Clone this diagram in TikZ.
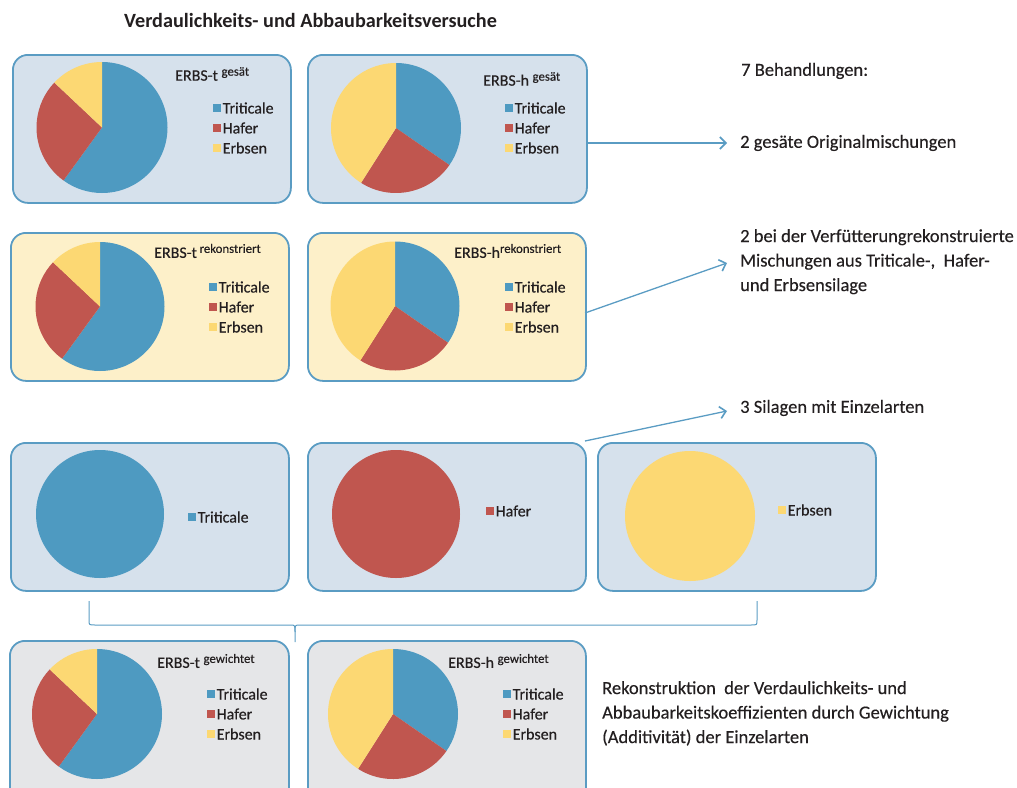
\documentclass[tikz,border=0pt]{standalone}
\usepackage{fontspec}
\setmainfont{Carlito}[UprightFeatures={FakeBold=0.35}]
\usetikzlibrary{arrows.meta}
\definecolor{cT}{HTML}{4E9AC1}
\definecolor{cH}{HTML}{C0564F}
\definecolor{cE}{HTML}{FCD873}
\definecolor{bl}{HTML}{D6E1EC}
\definecolor{be}{HTML}{FDF0C9}
\definecolor{gr}{HTML}{E5E6E8}
\definecolor{ln}{HTML}{5A9CC3}
\definecolor{tx}{HTML}{231F20}
\newcommand\mypie[5]{%
\begin{scope}[shift={(#1,#2)},yscale=-1]
\fill[cT] (0,0) -- (90:#3) arc[start angle=90,end angle=#4,radius=#3] -- cycle;
\fill[cH] (0,0) -- (#4:#3) arc[start angle=#4,end angle=#5,radius=#3] -- cycle;
\fill[cE] (0,0) -- (#5:#3) arc[start angle=#5,end angle=-270,radius=#3] -- cycle;
\end{scope}}
\newcommand\mylegitem[5]{%
\fill[#3] (#1,#2-3.8) rectangle ++(7.6,7.6);
\node[leg] (#5) at (#1+9.5,#2) {#4};}
\newcommand\mylegend[4]{%
\mylegitem{#1}{#2}{cT}{Triticale}{#3T}
\mylegitem{#1}{#2+20}{cH}{Hafer}{#3H}
\mylegitem{#1}{#2+40}{cE}{Erbsen}{#3E}}
\newcommand\mysup[1]{\raisebox{5pt}{\fontsize{12.8}{12.8}\selectfont #1}}
\begin{document}
\begin{tikzpicture}[x=1pt,y=-1pt,
  box/.style={draw=ln, line width=1.8pt, rounded corners=15pt, minimum width=278pt, minimum height=148pt, inner sep=0pt, anchor=north west},
  leg/.style={anchor=west, inner sep=0pt, text=tx, font=\fontsize{16}{18}\selectfont},
  ttl/.style={anchor=west, inner sep=0pt, text=tx, font=\fontsize{16}{18}\selectfont},
  rt/.style={anchor=west, inner sep=0pt, text=tx, font=\fontsize{18.5}{24.5}\selectfont, align=left},
  arr/.style={draw=ln, line width=1.3pt, -{Straight Barb[length=6pt,width=12pt,line width=1.6pt]}}
]
\useasboundingbox (0,0) rectangle (1017,787);
\clip (0,0) rectangle (1017,787);
% boxes
\node[box, fill=bl] (b1) at (12,54) {};
\node[box, fill=bl, minimum width=279pt] (b2) at (307,54) {};
\node[box, fill=be] (b3) at (10,232) {};
\node[box, fill=be] (b4) at (307,232) {};
\node[box, fill=bl] (b5) at (10,442) {};
\node[box, fill=bl] (b6) at (307,442) {};
\node[box, fill=bl] (b7) at (597,442) {};
\node[box, fill=gr, minimum width=279pt, minimum height=170pt] (b8) at (9,640) {};
\node[box, fill=gr, minimum height=170pt] (b9) at (307,640) {};
% pies
\mypie{102}{127.5}{65.5}{-126}{-223.3}
\mypie{396}{128}{65}{-34.7}{-122.5}
\mypie{100}{306.5}{64.5}{-126}{-223.3}
\mypie{395}{306}{64.5}{-34.7}{-122.5}
\fill[cT] (100,514) circle[radius=64];
\fill[cH] (396,514) circle[radius=64];
\fill[cE] (690,516) circle[radius=65];
\mypie{97}{714}{65}{-126}{-223.3}
\mypie{393}{714}{65}{-34.7}{-122.5}
% titles
\node[ttl] (t1) at (175,74) {ERBS-t \mysup{gesät}};
\node[ttl] (t2) at (483,79) {ERBS-h \mysup{gesät}};
\node[ttl] (t3) at (154,251) {ERBS-t\,\mysup{rekonstriert}};
\node[ttl] (t4) at (454,251) {ERBS-h\mysup{rekonstriert}};
\node[ttl] (t8) at (157,661) {ERBS-t \mysup{gewichtet}};
\node[ttl] (t9) at (448,661) {ERBS-h \mysup{gewichtet}};
% legends
\mylegend{213}{108}{l1}{}
\mylegend{505}{108}{l2}{}
\mylegend{209}{287}{l3}{}
\mylegend{505}{287}{l4}{}
\mylegitem{188}{517}{cT}{Triticale}{l5}
\mylegitem{486}{511}{cH}{Hafer}{l6}
\mylegitem{778}{510}{cE}{Erbsen}{l7}
\mylegend{207}{694}{l8}{}
\mylegend{503}{694}{l9}{}
% heading
\node[anchor=west, inner sep=0pt, text=tx, font=\bfseries\fontsize{20.2}{22}\selectfont] (head) at (124,20) {Verdaulichkeits- und Abbaubarkeitsversuche};
% right texts
\node[rt] (r0) at (741,71) {7 Behandlungen:};
\node[rt] (r1) at (740,143) {2 gesäte Originalmischungen};
\node[rt, anchor=north west] (r2) at (740,229) {2 bei der Verfütterungrekonstruierte\\Mischungen aus Triticale-,\ \ Hafer-\\und Erbsensilage};
\node[rt] (r3) at (740,408) {3 Silagen mit Einzelarten};
\node[rt, anchor=north west] (r4) at (602,681) {Rekonstruktion\ \ der Verdaulichkeits- und\\Abbaubarkeitskoeffizienten durch Gewichtung\\(Additivität) der Einzelarten};
% arrows
\coordinate (a1) at (727,143);
\coordinate (a2) at (727,263);
\coordinate (a3) at (727,411);
\coordinate (s2) at (585,313);
\coordinate (s3) at (585,441);
\draw[arr] (b2.east |- a1) -- (a1);
\draw[arr] (s2) -- (a2);
\draw[arr] (s3) -- (a3);
% brace
\coordinate (bl0) at (89,601);
\coordinate (br0) at (757,601);
\coordinate (btip) at (295,642);
\draw[ln, line width=1pt] (bl0) -- (89,620) .. controls (89,625) .. (95,625) -- (290,625) .. controls (295,625) .. (btip |- 0,632) -- (btip);
\draw[ln, line width=1pt] (br0) -- (757,620) .. controls (757,625) .. (751,625) -- (300,625) .. controls (295,625) .. (btip |- 0,632);
\end{tikzpicture}
\end{document}
